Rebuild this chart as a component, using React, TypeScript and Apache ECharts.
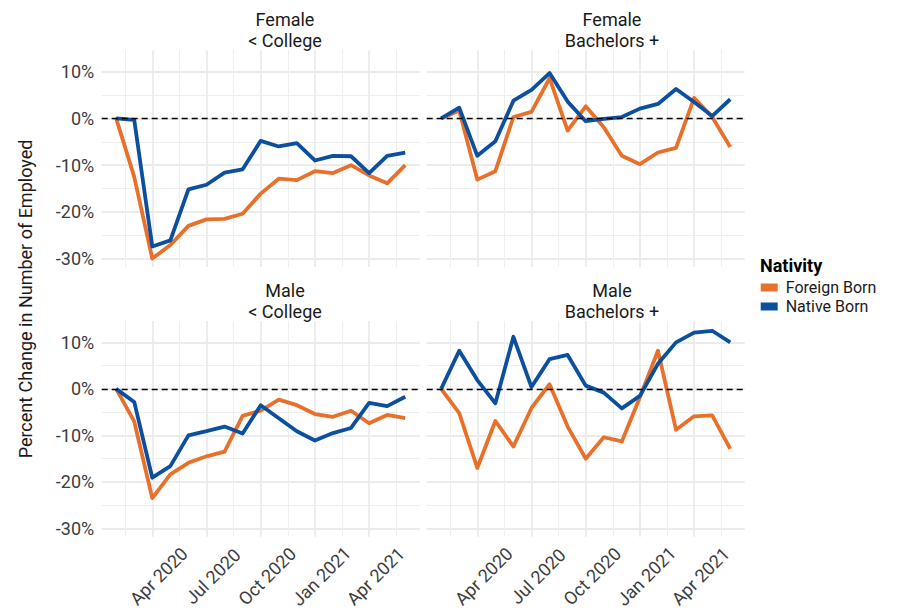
import React, { useEffect, useRef } from 'react';
import * as echarts from 'echarts';

// Months: Feb 2020 .. Jun 2021 (x = months since Jan 2020)
const months = [
  'Feb 2020', 'Mar 2020', 'Apr 2020', 'May 2020', 'Jun 2020', 'Jul 2020', 'Aug 2020', 'Sep 2020',
  'Oct 2020', 'Nov 2020', 'Dec 2020', 'Jan 2021', 'Feb 2021', 'Mar 2021', 'Apr 2021', 'May 2021', 'Jun 2021',
];
const monthX = months.map((_, i) => i + 1);

const xTickValues = [3, 6, 9, 12, 15];
const xTickLabels = ['Apr 2020', 'Jul 2020', 'Oct 2020', 'Jan 2021', 'Apr 2021'];
const xMinorValues = [1.5, 4.5, 7.5, 10.5, 13.5, 16.5];
const yTickValues = [-30, -20, -10, 0, 10];
const yMinorValues = [-25, -15, -5, 5];

const sexes = ['Female', 'Female', 'Male', 'Male'];
const educations = ['< College', 'Bachelors +', '< College', 'Bachelors +'];
const nativity = ['Foreign Born', 'Native Born'];

// Percent change in number of employed
const femaleLessCollegeForeign = [0, -12.5, -30.0, -27.1, -23.0, -21.6, -21.5, -20.4, -16.1, -12.9, -13.2, -11.3, -11.7, -10.0, -12.2, -13.9, -10.0];
const femaleLessCollegeNative = [0, -0.3, -27.4, -26.1, -15.2, -14.2, -11.6, -10.9, -4.8, -6.0, -5.3, -9.0, -8.0, -8.1, -11.7, -8.0, -7.3];
const femaleBachForeign = [0, 1.7, -13.1, -11.3, 0.3, 1.4, 8.6, -2.6, 2.6, -1.9, -8.0, -9.8, -7.3, -6.3, 4.4, 0.3, -6.1];
const femaleBachNative = [0, 2.3, -8.0, -4.9, 3.8, 6.1, 9.7, 3.6, -0.6, -0.1, 0.3, 2.1, 3.1, 6.3, 3.5, 0.5, 4.1];
const maleLessCollegeForeign = [0, -7.0, -23.5, -18.4, -15.9, -14.5, -13.5, -5.8, -4.7, -2.3, -3.5, -5.4, -6.0, -4.7, -7.4, -5.6, -6.3];
const maleLessCollegeNative = [0, -2.8, -19.1, -16.6, -10.0, -9.1, -8.1, -9.6, -3.5, -6.3, -9.1, -11.1, -9.5, -8.4, -3.0, -3.7, -1.7];
const maleBachForeign = [0, -5.2, -17.0, -6.9, -12.4, -4.1, 1.0, -8.1, -15.0, -10.4, -11.3, -1.8, 8.2, -8.8, -5.9, -5.7, -12.9];
const maleBachNative = [0, 8.2, 1.9, -3.1, 11.2, 0.4, 6.4, 7.3, 0.7, -0.8, -4.2, -1.5, 5.4, 10.0, 12.1, 12.5, 10.0];

const panelData = [
  [femaleLessCollegeForeign, femaleLessCollegeNative],
  [femaleBachForeign, femaleBachNative],
  [maleLessCollegeForeign, maleLessCollegeNative],
  [maleBachForeign, maleBachNative],
];

const colors = ['#E8702A', '#0C4F9E'];
const FONT = 'Roboto, "Noto Sans", sans-serif';

const gridBoxes = [
  { left: 101.7, top: 50.2, width: 318, height: 216.8 },
  { left: 426.7, top: 50.2, width: 318, height: 216.8 },
  { left: 101.7, top: 321, width: 318, height: 216.5 },
  { left: 426.7, top: 321, width: 318, height: 216.5 },
];
const stripCenters = [
  { x: 285, y1: 19, y2: 40 },
  { x: 612, y1: 19, y2: 40 },
  { x: 285, y1: 290, y2: 311 },
  { x: 612, y1: 290, y2: 311 },
];

export default function App() {
  const ref = useRef<HTMLDivElement>(null);
  useEffect(() => {
    if (!ref.current) return;
    const chart = echarts.init(ref.current, undefined, { renderer: 'svg' });
    const grid: any[] = [];
    const xAxis: any[] = [];
    const yAxis: any[] = [];
    const series: any[] = [];
    const graphic: any[] = [];

    gridBoxes.forEach((b, g) => {
      grid.push({ ...b, containLabel: false });
      const isBottom = g >= 2;
      const isLeft = g % 2 === 0;
      xAxis.push({
        type: 'value', gridIndex: g, min: 0.2, max: 17.8,
        axisLine: { show: false },
        axisTick: { show: false, customValues: xTickValues },
        axisLabel: {
          show: isBottom,
          customValues: xTickValues,
          rotate: 45,
          align: 'center',
          verticalAlign: 'top',
          margin: 33,
          fontSize: 18,
          fontFamily: FONT,
          color: '#3d3d3d',
          formatter: (v: number) => xTickLabels[xTickValues.indexOf(Math.round(v))] ?? '',
        },
        splitLine: { show: true, lineStyle: { color: '#ebebeb', width: 1.8 } },
      });
      xAxis.push({
        type: 'value', gridIndex: g, min: 0.2, max: 17.8,
        axisLine: { show: false },
        axisTick: { show: false, customValues: xMinorValues },
        axisLabel: { show: false, customValues: xMinorValues },
        splitLine: { show: true, lineStyle: { color: '#eeeeee', width: 1 } },
      });
      yAxis.push({
        type: 'value', gridIndex: g, min: -31.8, max: 14.6,
        axisLine: { show: false },
        axisTick: { show: false, customValues: yTickValues },
        axisLabel: {
          show: isLeft,
          customValues: yTickValues,
          margin: 7.5,
          fontSize: 18,
          fontFamily: FONT,
          color: '#3d3d3d',
          formatter: (v: number) => `${v}%`,
        },
        splitLine: { show: true, lineStyle: { color: '#ebebeb', width: 1.8 } },
      });
      yAxis.push({
        type: 'value', gridIndex: g, min: -31.8, max: 14.6,
        axisLine: { show: false },
        axisTick: { show: false, customValues: yMinorValues },
        axisLabel: { show: false, customValues: yMinorValues },
        splitLine: { show: true, lineStyle: { color: '#eeeeee', width: 1 } },
      });

      panelData[g].forEach((vals, k) => {
        series.push({
          type: 'line',
          name: nativity[k],
          xAxisIndex: 2 * g,
          yAxisIndex: 2 * g,
          data: monthX.map((x, i) => [x, vals[i]]),
          showSymbol: false,
          symbol: 'none',
          z: 3,
          lineStyle: { color: colors[k], width: 3.8, join: 'round', cap: 'butt' },
          itemStyle: { color: colors[k] },
          markLine: k === 0 ? {
            silent: true,
            symbol: 'none',
            label: { show: false },
            lineStyle: { color: '#000', type: [6, 4], width: 1.3 },
            data: [{ yAxis: 0 }],
            z: 4,
          } : undefined,
        });
      });

      const s = stripCenters[g];
      graphic.push({
        type: 'text', x: s.x, y: s.y1,
        style: { text: sexes[g], fontSize: 18, fontFamily: FONT, fill: '#1a1a1a', align: 'center', verticalAlign: 'middle' },
      });
      graphic.push({
        type: 'text', x: s.x, y: s.y2,
        style: { text: educations[g], fontSize: 18, fontFamily: FONT, fill: '#1a1a1a', align: 'center', verticalAlign: 'middle' },
      });
    });

    graphic.push({
      type: 'text', x: 25, y: 299, rotation: Math.PI / 2,
      style: { text: 'Percent Change in Number of Employed', fontSize: 18, fontFamily: FONT, fill: '#1a1a1a', align: 'center', verticalAlign: 'middle' },
    });
    graphic.push({
      type: 'text', x: 760, y: 265,
      style: { text: 'Nativity', fontSize: 18, fontWeight: 'bold', fontFamily: FONT, fill: '#000', align: 'left', verticalAlign: 'middle' },
    });

    chart.setOption({
      animation: false,
      backgroundColor: '#ffffff',
      grid,
      xAxis,
      yAxis,
      series,
      graphic,
      legend: {
        data: nativity,
        orient: 'vertical',
        left: 760.7,
        top: 279,
        padding: 0,
        itemGap: 2,
        itemWidth: 17,
        itemHeight: 8,
        icon: 'rect',
        textStyle: { fontSize: 16, fontFamily: FONT, color: '#1a1a1a', lineHeight: 17, padding: [0, 0, 0, 3] },
        selectedMode: false,
      },
    });
    return () => chart.dispose();
  }, []);

  return (
    <div
      ref={ref}
      style={{ position: 'absolute', left: 0, top: 0, width: 897, height: 611, background: '#fff' }}
    />
  );
}
